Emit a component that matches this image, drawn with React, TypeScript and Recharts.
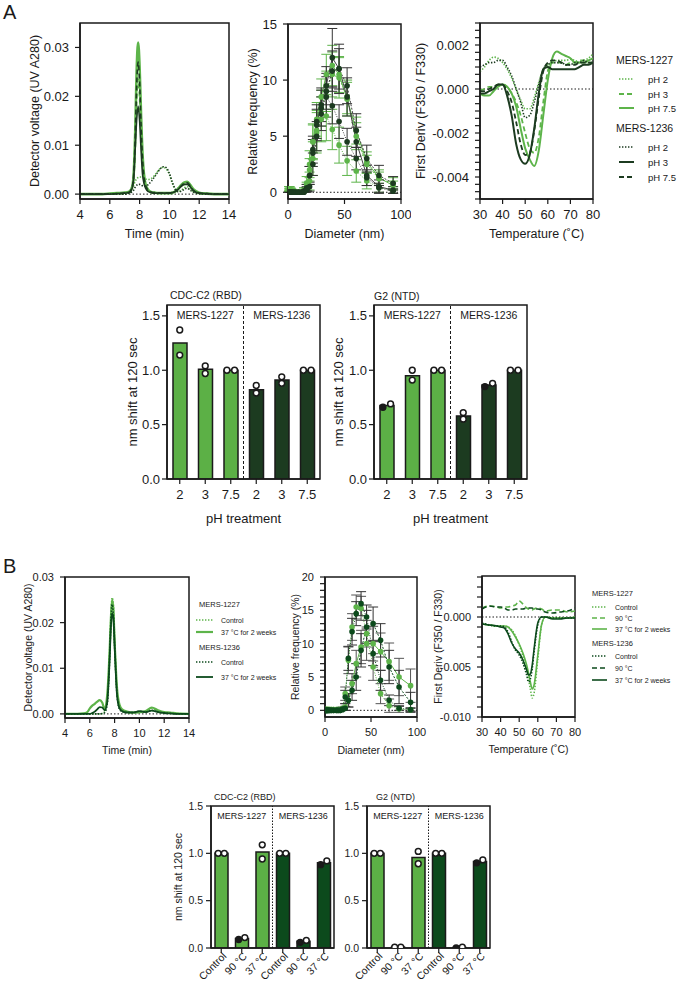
import {
  LineChart, Line, XAxis, YAxis, ReferenceLine, ReferenceArea, ErrorBar,
  ComposedChart, Bar, Cell, Scatter, Legend,
} from 'recharts';

const FONT = '"Liberation Sans", Arial, Helvetica, sans-serif';
const INK = '#1a1a1a';
const LIGHT = '#5db44a';
const DARK_A = '#1c3b20';
const DARK_B = '#0c4a1c';
const BAR_LIGHT = '#5cb046';
const DOTTED = '1.4 1.6';
const DASHED = '5 3';

// ---------- Panel A: SEC ----------
const A_SEC_TIME = [4, 5, 5.5, 6, 6.5, 7, 7.3, 7.5, 7.6, 7.7, 7.8, 7.9, 8.0, 8.1, 8.2, 8.4, 8.6, 8.8, 9.0, 9.2, 9.4, 9.6, 9.8, 10.0, 10.2, 10.4, 10.6, 10.8, 11.0, 11.2, 11.4, 11.6, 12, 12.5, 13, 14];
const A_SEC_1227_PH2 = [0, 0, 0, 0, 0, 0.0001, 0.0003, 0.001, 0.0018, 0.0026, 0.0031, 0.0034, 0.0035, 0.0035, 0.0034, 0.0031, 0.003, 0.0032, 0.0038, 0.0046, 0.0053, 0.0055, 0.0051, 0.004, 0.0022, 0.0009, 0.0005, 0.0008, 0.0013, 0.0015, 0.001, 0.0005, 0.0001, 0, 0, 0];
const A_SEC_1227_PH3 = [0, 0, 0, 0, 0.0001, 0.0002, 0.0004, 0.0012, 0.003, 0.009, 0.019, 0.0235, 0.02, 0.012, 0.006, 0.0016, 0.0006, 0.0003, 0.0002, 0.0002, 0.0002, 0.0002, 0.0002, 0.0002, 0.0003, 0.0005, 0.001, 0.0016, 0.002, 0.0021, 0.0016, 0.0008, 0.0002, 0.0001, 0, 0];
const A_SEC_1227_PH75 = [0, 0, 0, 0.0001, 0.0002, 0.0003, 0.0005, 0.0015, 0.004, 0.012, 0.025, 0.031, 0.026, 0.016, 0.008, 0.002, 0.0008, 0.0004, 0.0003, 0.0002, 0.0002, 0.0002, 0.0002, 0.0002, 0.0003, 0.0006, 0.0012, 0.0019, 0.0024, 0.0025, 0.0019, 0.001, 0.0003, 0.0001, 0, 0];
const A_SEC_1236_PH2 = [0, 0, 0, 0, 0, 0, 0.0002, 0.0005, 0.0008, 0.0014, 0.0018, 0.002, 0.002, 0.0019, 0.0017, 0.0016, 0.002, 0.0027, 0.0035, 0.0044, 0.0052, 0.0056, 0.0054, 0.0042, 0.0024, 0.001, 0.0005, 0.0006, 0.001, 0.0012, 0.0008, 0.0004, 0.0001, 0, 0, 0];
const A_SEC_1236_PH3 = [0, 0, 0, 0, 0.0001, 0.0002, 0.0003, 0.0012, 0.003, 0.009, 0.015, 0.018, 0.015, 0.009, 0.004, 0.0012, 0.0005, 0.0003, 0.0002, 0.0002, 0.0002, 0.0002, 0.0002, 0.0002, 0.0003, 0.0005, 0.001, 0.0016, 0.002, 0.002, 0.0015, 0.0007, 0.0002, 0.0001, 0, 0];
const A_SEC_1236_PH75 = [0, 0, 0, 0, 0.0001, 0.0002, 0.0004, 0.0015, 0.004, 0.011, 0.022, 0.027, 0.023, 0.014, 0.007, 0.0018, 0.0007, 0.0004, 0.0003, 0.0002, 0.0002, 0.0002, 0.0002, 0.0002, 0.0003, 0.0006, 0.0011, 0.0017, 0.0022, 0.0023, 0.0017, 0.0008, 0.0002, 0.0001, 0, 0];

// ---------- Panel A: DLS ----------
const DLS_DIAMETER = [1.0, 1.5, 2.2, 2.9, 3.9, 5.2, 6.9, 9.3, 12.4, 14.3, 16.5, 19.1, 22.0, 25.4, 29.4, 33.9, 39.2, 45.2, 52.3, 60.4, 69.7, 80.5, 93.0];
const A_DLS_1227_PH2 = [0.3, 0.3, 0.2, 0.2, 0.1, 0.1, 0, 0, 0, 0.2, 0.8, 2.5, 4.5, 5.3, 6.5, 6.8, 5.6, 4.2, 2.8, 1.9, 1.0, 0.4, 0.2];
const A_DLS_1227_PH2_SD = [0.2, 0.2, 0.2, 0.1, 0.1, 0.1, 0, 0, 0, 0.2, 0.6, 1.2, 1.6, 1.8, 2.0, 2.2, 1.8, 1.6, 1.3, 1.0, 0.7, 0.4, 0.3];
const A_DLS_1227_PH3 = [0.2, 0.2, 0.1, 0.1, 0, 0, 0, 0, 0, 0.1, 0.4, 1.0, 3.0, 5.5, 7.5, 9.0, 10.5, 10.2, 8.5, 5.0, 2.5, 1.2, 0.8];
const A_DLS_1227_PH3_SD = [0.1, 0.1, 0.1, 0.1, 0, 0, 0, 0, 0, 0.1, 0.3, 0.8, 1.5, 1.8, 1.6, 1.8, 2.0, 1.8, 1.5, 1.2, 0.8, 0.6, 0.5];
const A_DLS_1227_PH75 = [0.3, 0.2, 0.2, 0.1, 0.1, 0, 0, 0, 0, 0.2, 0.5, 2.0, 4.5, 6.5, 8.5, 10.5, 11.3, 10.5, 8.3, 5.5, 2.7, 1.3, 0.6];
const A_DLS_1227_PH75_SD = [0.2, 0.1, 0.1, 0.1, 0, 0, 0, 0, 0, 0.2, 0.4, 1.0, 1.5, 1.5, 1.6, 1.8, 1.8, 1.6, 1.5, 1.2, 0.9, 0.7, 0.4];
const A_DLS_1236_PH2 = [0, 0, 0, 0, 0, 0, 0, 0, 0, 0.1, 0.4, 1.5, 3.8, 6.3, 7.5, 8.5, 7.7, 6.3, 4.5, 3.0, 1.3, 0.4, 0.1];
const A_DLS_1236_PH2_SD = [0, 0, 0, 0, 0, 0, 0, 0, 0, 0.1, 0.3, 0.8, 1.2, 1.5, 1.6, 1.8, 1.6, 1.5, 1.2, 1.0, 0.7, 0.4, 0.2];
const A_DLS_1236_PH3 = [0, 0, 0, 0, 0, 0, 0, 0, 0, 0.1, 0.3, 1.5, 3.5, 6.0, 7.8, 9.5, 12.0, 11.0, 8.5, 4.5, 1.5, 0.5, 0.2];
const A_DLS_1236_PH3_SD = [0, 0, 0, 0, 0, 0, 0, 0, 0, 0.1, 0.2, 0.8, 1.2, 1.4, 1.5, 1.7, 2.6, 2.2, 1.7, 1.3, 0.9, 0.6, 0.3];
const A_DLS_1236_PH75 = [0, 0, 0, 0, 0, 0, 0, 0, 0, 0, 0.2, 0.5, 2.5, 5.0, 7.0, 9.0, 10.8, 11.0, 9.5, 5.5, 3.0, 1.5, 0.8];
const A_DLS_1236_PH75_SD = [0, 0, 0, 0, 0, 0, 0, 0, 0, 0, 0.2, 0.4, 1.0, 1.3, 1.5, 1.6, 1.8, 1.8, 1.6, 1.5, 1.2, 0.9, 0.6];

// ---------- Panel A: nanoDSF first derivative ----------
const A_DSF_TEMP = [30, 32, 34, 36, 38, 40, 42, 44, 46, 48, 50, 52, 54, 56, 58, 60, 62, 64, 66, 68, 70, 72, 74, 76, 78, 80];
const A_DSF_1227_PH2 = [0.0008, 0.001, 0.0013, 0.00145, 0.0014, 0.0012, 0.0009, 0.0005, 0, -0.0005, -0.0009, -0.0009, -0.0004, 0.0003, 0.0009, 0.0011, 0.0012, 0.0013, 0.0013, 0.0013, 0.00135, 0.0013, 0.0012, 0.0013, 0.0014, 0.0016];
const A_DSF_1227_PH3 = [-0.00005, 0, 0.0001, 0.0001, 0.0002, 0.0002, 0.0001, -0.0002, -0.0006, -0.0012, -0.002, -0.0027, -0.0029, -0.0022, -0.0006, 0.0008, 0.0012, 0.0012, 0.0012, 0.0011, 0.0012, 0.0012, 0.0013, 0.0013, 0.0012, 0.0012];
const A_DSF_1227_PH75 = [-0.0002, -0.0003, -0.0003, -0.0001, 0.0001, 0.0002, 0.0001, -0.0002, -0.0008, -0.0018, -0.0027, -0.0032, -0.0035, -0.0028, -0.0012, 0.0004, 0.0014, 0.0017, 0.0016, 0.0015, 0.0014, 0.0012, 0.0012, 0.0012, 0.0013, 0.0014];
const A_DSF_1236_PH2 = [0.001, 0.0011, 0.0012, 0.0012, 0.0013, 0.0013, 0.001, 0.0006, 0, -0.0006, -0.0013, -0.0012, -0.0006, 0.0002, 0.0009, 0.0011, 0.0012, 0.0012, 0.0012, 0.0011, 0.0011, 0.0012, 0.0012, 0.0013, 0.0012, 0.0012];
const A_DSF_1236_PH3 = [-0.0002, -0.0002, -0.0001, 0, 0.0002, 0.0002, -0.0003, -0.0012, -0.0025, -0.0032, -0.0034, -0.003, -0.0018, -0.0002, 0.0009, 0.001, 0.0009, 0.0009, 0.0009, 0.0009, 0.0009, 0.0009, 0.001, 0.0011, 0.0011, 0.0012];
const A_DSF_1236_PH75 = [-0.0001, -0.0001, 0, 0.0001, 0.0002, 0.0002, -0.0001, -0.0006, -0.0015, -0.0025, -0.003, -0.0029, -0.0019, -0.0004, 0.0008, 0.0012, 0.0013, 0.0013, 0.0012, 0.0011, 0.0011, 0.0011, 0.0012, 0.0012, 0.0012, 0.0012];

// ---------- Panel A: BLI binding ----------
const PH_LABELS = ['2', '3', '7.5', '2', '3', '7.5'];
const A_RBD_MEAN = [1.25, 1.01, 1.0, 0.82, 0.91, 1.0];
const A_RBD_REP1 = [1.37, 1.04, 1.0, 0.86, 0.94, 1.0];
const A_RBD_REP2 = [1.14, 0.97, 1.0, 0.79, 0.88, 1.0];
const A_NTD_MEAN = [0.675, 0.95, 1.0, 0.58, 0.865, 1.0];
const A_NTD_REP1 = [0.66, 1.0, 1.0, 0.61, 0.85, 1.0];
const A_NTD_REP2 = [0.69, 0.91, 1.0, 0.55, 0.88, 1.0];

// ---------- Panel B: SEC ----------
const B_SEC_TIME = [4, 5, 5.5, 5.8, 6.0, 6.2, 6.4, 6.6, 6.8, 7.0, 7.2, 7.4, 7.6, 7.7, 7.8, 7.9, 8.0, 8.2, 8.4, 8.6, 9, 9.5, 10, 10.5, 11, 11.5, 12, 12.5, 13, 14];
const B_SEC_1227_CTRL = [0, 0, 0, 0, 0, 0, 0, 0, 0, 0.0001, 0.0005, 0.003, 0.014, 0.021, 0.0255, 0.024, 0.017, 0.005, 0.0015, 0.0007, 0.0003, 0.0002, 0.0003, 0.0004, 0.0012, 0.0006, 0.0003, 0.0002, 0.0001, 0];
const B_SEC_1227_37C = [0, 0, 0.0001, 0.0004, 0.0012, 0.0018, 0.0022, 0.0027, 0.003, 0.0025, 0.001, 0.004, 0.014, 0.021, 0.025, 0.023, 0.016, 0.0055, 0.002, 0.001, 0.0005, 0.0003, 0.0004, 0.0006, 0.0014, 0.0008, 0.0004, 0.0003, 0.0001, 0];
const B_SEC_1236_CTRL = [0, 0, 0, 0, 0, 0, 0, 0, 0, 0.0001, 0.0003, 0.002, 0.012, 0.02, 0.024, 0.022, 0.015, 0.004, 0.001, 0.0005, 0.0003, 0.0003, 0.0006, 0.0004, 0.0008, 0.0004, 0.0002, 0.0001, 0, 0];
const B_SEC_1236_37C = [0, 0, 0, 0, 0, 0.0002, 0.0005, 0.001, 0.0015, 0.0014, 0.0008, 0.0025, 0.012, 0.019, 0.022, 0.021, 0.015, 0.004, 0.0012, 0.0006, 0.0003, 0.0003, 0.0006, 0.0004, 0.0007, 0.0004, 0.0002, 0.0001, 0, 0];

// ---------- Panel B: DLS ----------
const B_DLS_1227_CTRL = [0.1, 0.1, 0.1, 0.1, 0.1, 0.1, 0.1, 0.1, 0.1, 0.1, 0.1, 0.3, 2.5, 7.5, 12.5, 15.5, 15.3, 11.5, 6.5, 2.5, 0.7, 0.2, 0.1];
const B_DLS_1227_CTRL_SD = [0, 0, 0, 0, 0, 0, 0, 0, 0, 0, 0.1, 0.2, 1.0, 2.0, 2.0, 1.8, 1.8, 2.0, 2.0, 1.5, 1.0, 0.5, 0.3];
const B_DLS_1227_37C = [0.1, 0.1, 0.1, 0.1, 0.1, 0.1, 0.1, 0.1, 0.1, 0.1, 0.1, 0.2, 0.5, 1.5, 4.0, 7.0, 9.5, 10.0, 10.0, 8.8, 7.3, 5.0, 3.7];
const B_DLS_1227_37C_SD = [0, 0, 0, 0, 0, 0, 0, 0, 0, 0, 0.1, 0.2, 0.5, 1.0, 1.5, 2.0, 2.5, 2.5, 2.6, 2.8, 2.8, 2.8, 2.5];
const B_DLS_1236_CTRL = [0, 0, 0, 0, 0, 0, 0, 0, 0, 0, 0, 0.2, 2.0, 7.8, 11.8, 14.5, 16.0, 14.0, 8.5, 4.5, 1.5, 0.3, 0.1];
const B_DLS_1236_CTRL_SD = [0, 0, 0, 0, 0, 0, 0, 0, 0, 0, 0, 0.2, 1.0, 1.8, 2.0, 1.8, 1.8, 1.8, 1.8, 1.5, 0.8, 0.3, 0.2];
const B_DLS_1236_37C = [0, 0, 0, 0, 0, 0, 0, 0, 0, 0, 0, 0.1, 0.3, 1.5, 3.0, 5.0, 9.0, 12.5, 13.0, 10.5, 6.5, 3.5, 1.2];
const B_DLS_1236_37C_SD = [0, 0, 0, 0, 0, 0, 0, 0, 0, 0, 0, 0.1, 0.3, 1.0, 1.5, 2.0, 2.5, 2.5, 2.5, 2.5, 2.5, 2.5, 1.5];

// ---------- Panel B: nanoDSF first derivative ----------
const B_DSF_TEMP = [30, 34, 38, 40, 42, 44, 46, 48, 50, 52, 54, 55, 56, 57, 58, 60, 62, 64, 68, 72, 76, 80];
const B_DSF_1227_CTRL = [-0.0007, -0.0008, -0.0009, -0.0009, -0.0009, -0.001, -0.0013, -0.0019, -0.0028, -0.0039, -0.0053, -0.0062, -0.0072, -0.0081, -0.0076, -0.0042, -0.0008, 0, -0.0001, -0.0001, -0.0001, -0.0001];
const B_DSF_1227_90C = [0.0009, 0.0011, 0.001, 0.0009, 0.001, 0.001, 0.0011, 0.0012, 0.0016, 0.0013, 0.0009, 0.0008, 0.0007, 0.0007, 0.0008, 0.0009, 0.0008, 0.0006, 0.0007, 0.0007, 0.0005, 0.0006];
const B_DSF_1227_37C = [-0.0007, -0.0008, -0.0009, -0.0009, -0.0009, -0.001, -0.0014, -0.002, -0.0027, -0.0036, -0.0048, -0.0056, -0.0065, -0.0072, -0.0068, -0.0038, -0.0008, 0, -0.0001, -0.0001, -0.0001, 0];
const B_DSF_1236_CTRL = [-0.0006, -0.0008, -0.0009, -0.0009, -0.001, -0.0015, -0.0025, -0.0033, -0.0038, -0.0046, -0.0058, -0.0065, -0.0062, -0.0052, -0.0035, -0.0008, 0, 0, -0.0001, -0.0001, -0.0001, -0.0001];
const B_DSF_1236_90C = [0.0008, 0.0011, 0.001, 0.001, 0.0009, 0.0007, 0.0007, 0.0008, 0.0008, 0.0008, 0.0009, 0.0009, 0.0009, 0.0009, 0.0008, 0.0008, 0.0007, 0.0005, 0.0004, 0.0005, 0.0006, 0.0009];
const B_DSF_1236_37C = [-0.0007, -0.0008, -0.0009, -0.001, -0.0011, -0.0017, -0.0026, -0.0032, -0.0036, -0.0043, -0.0053, -0.0058, -0.0057, -0.0048, -0.0032, -0.0006, 0, 0, -0.0002, -0.0002, -0.0001, -0.0001];

// ---------- Panel B: BLI binding ----------
const COND_LABELS = ['Control', '90 °C', '37 °C', 'Control', '90 °C', '37 °C'];
const B_RBD_MEAN = [1.0, 0.1, 1.015, 1.0, 0.07, 0.9];
const B_RBD_REP1 = [1.0, 0.09, 1.09, 1.0, 0.06, 0.88];
const B_RBD_REP2 = [1.0, 0.11, 0.94, 1.0, 0.08, 0.92];
const B_NTD_MEAN = [1.0, 0.01, 0.955, 1.0, 0.005, 0.915];
const B_NTD_REP1 = [1.0, 0.01, 1.02, 1.0, 0.0, 0.9];
const B_NTD_REP2 = [1.0, 0.01, 0.89, 1.0, 0.01, 0.93];

type Box = { x0: number; y0: number; x1: number; y1: number };

type SeriesDef = {
  key: string;
  group: string;
  label: string;
  values: number[];
  err?: number[];
  color: string;
  dash?: string;
  width: number;
  dotColor?: string;
  errColor?: string;
};

type KeySpec = {
  headerX: number;
  headerY: number[];
  rowY: number[][];
  lineX: [number, number];
  textX: number;
  headerFs: number;
  fs: number;
};

const AXIS = { stroke: INK, strokeWidth: 1.5 };
const TICK = { stroke: INK, strokeWidth: 1.2 };

const near = (a: number, b: number) => Math.abs(a - b) < 1e-9;
const clean = (v: number) => (Math.abs(v) < 1e-12 ? 0 : v);
const steps = (from: number, to: number, n: number) =>
  Array.from({ length: n + 1 }, (_, k) => Math.round((from + ((to - from) * k) / n) * 1e7) / 1e7);

function yTickRenderer(major: number[], digits: number, fs: number) {
  return (props: any) => {
    const v = props.payload.value;
    if (!major.some((m) => near(m, v))) return <g />;
    return (
      <text x={props.x} y={props.y} textAnchor="end" dominantBaseline="central" fontSize={fs} fontFamily={FONT} fill={INK}>
        {clean(v).toFixed(digits)}
      </text>
    );
  };
}

function SeriesKey({ spec, series, left, top }: { spec: KeySpec; series: SeriesDef[]; left: number; top: number }) {
  const groups = Array.from(new Set(series.map((s) => s.group)));
  return (
    <svg width={677} height={986} style={{ position: 'absolute', left: -left, top: -top, overflow: 'visible', pointerEvents: 'none' }}>
      {groups.map((g, gi) => (
        <g key={g}>
          <text x={spec.headerX} y={spec.headerY[gi]} dominantBaseline="central" fontSize={spec.headerFs} fontFamily={FONT} fill={INK}>
            {g}
          </text>
          {series.filter((s) => s.group === g).map((s, si) => (
            <g key={s.key}>
              <line x1={spec.lineX[0]} x2={spec.lineX[1]} y1={spec.rowY[gi][si]} y2={spec.rowY[gi][si]}
                stroke={s.color} strokeWidth={s.width} strokeDasharray={s.dash} />
              <text x={spec.textX} y={spec.rowY[gi][si]} dominantBaseline="central" fontSize={spec.fs} fontFamily={FONT} fill={INK}>
                {s.label}
              </text>
            </g>
          ))}
        </g>
      ))}
    </svg>
  );
}

type LineProps = {
  box: Box;
  x: number[];
  series: SeriesDef[];
  xDomain: [number, number];
  xTicks: number[];
  yDomain: [number, number];
  yTicks: number[];
  yMajor: number[];
  yDigits: number;
  xTitle: string;
  yTitle: string;
  yTitleX: number;
  xTitleY: number;
  fs: number;
  titleFs: number;
  markers?: boolean;
  keySpec?: KeySpec;
};

function LinePanel(p: LineProps) {
  const padL = 80, padT = 10, padB = 50, padR = 10;
  const left = p.box.x0 - padL;
  const top = p.box.y0 - padT;
  const width = p.box.x1 - p.box.x0 + padL + padR;
  const height = p.box.y1 - p.box.y0 + padT + padB;
  const rows = p.x.map((xv, i) => {
    const row: Record<string, number> = { x: xv };
    p.series.forEach((s) => {
      row[s.key] = s.values[i];
      if (s.err) row[s.key + '_sd'] = s.err[i];
    });
    return row;
  });
  const midX = (p.box.x0 + p.box.x1) / 2 - left;
  const midY = (p.box.y0 + p.box.y1) / 2 - top;

  return (
    <div style={{ position: 'absolute', left, top, width, height }}>
      <LineChart width={width} height={height} data={rows} margin={{ top: padT, right: padR, bottom: 0, left: 0 }}>
        <XAxis dataKey="x" type="number" domain={p.xDomain} ticks={p.xTicks} interval={0} allowDataOverflow height={padB}
          axisLine={AXIS} tickLine={TICK} tickSize={5} tickMargin={6}
          tick={{ fontSize: p.fs, fontFamily: FONT, fill: INK }}
          label={() => (
            <text x={midX} y={p.xTitleY - top} textAnchor="middle" dominantBaseline="central" fontSize={p.titleFs} fontFamily={FONT} fill={INK}>
              {p.xTitle}
            </text>
          )} />
        <YAxis type="number" domain={p.yDomain} ticks={p.yTicks} interval={0} allowDataOverflow width={padL}
          axisLine={AXIS} tickLine={TICK} tickSize={5} tickMargin={6}
          tick={yTickRenderer(p.yMajor, p.yDigits, p.fs)}
          label={() => (
            <text transform={`translate(${p.yTitleX - left},${midY}) rotate(-90)`} textAnchor="middle" dominantBaseline="central"
              fontSize={p.titleFs} fontFamily={FONT} fill={INK}>
              {p.yTitle}
            </text>
          )} />
        <ReferenceLine y={0} stroke={INK} strokeWidth={1} strokeDasharray="1.5 2" />
        {p.series.map((s) => (
          <Line key={s.key} dataKey={s.key} type={p.markers ? 'linear' : 'monotone'} stroke={s.color}
            strokeWidth={s.width} strokeDasharray={s.dash} isAnimationActive={false} activeDot={false}
            dot={p.markers ? { r: 2.8, fill: s.dotColor ?? s.color, stroke: 'none' } : false}>
            {s.err && (
              <ErrorBar dataKey={s.key + '_sd'} direction="y" width={5} stroke={s.errColor ?? s.color} strokeWidth={1} />
            )}
          </Line>
        ))}
        {/* plot frame */}
        <ReferenceArea x1={p.xDomain[0]} x2={p.xDomain[1]} y1={p.yDomain[0]} y2={p.yDomain[1]}
          fill="none" fillOpacity={0} stroke={INK} strokeWidth={1.5} ifOverflow="visible" />
        {p.keySpec && (
          <Legend verticalAlign="top" align="left" layout="horizontal"
            wrapperStyle={{ position: 'absolute', left: 0, top: 0, width: 0, height: 0, overflow: 'visible' }}
            content={() => <SeriesKey spec={p.keySpec!} series={p.series} left={left} top={top} />} />
        )}
      </LineChart>
    </div>
  );
}

type BarProps = {
  box: Box;
  cats: string[];
  mean: number[];
  rep1: number[];
  rep2: number[];
  colors: string[];
  yMax: number;
  fs: number;
  titleFs: number;
  groupFs: number;
  barSize: number;
  yTickMargin: number;
  title: string;
  titleX: number;
  titleY: number;
  groupY: number;
  dividerDash: string;
  yTitle?: string;
  yTitleX?: number;
  xTitle?: string;
  xTitleY?: number;
  rotate?: boolean;
};

function BarPanel(p: BarProps) {
  const padL = 70, padT = 24, padB = p.rotate ? 60 : 50, padR = 8;
  const left = p.box.x0 - padL;
  const top = p.box.y0 - padT;
  const width = p.box.x1 - p.box.x0 + padL + padR;
  const height = p.box.y1 - p.box.y0 + padT + padB;
  const rows = p.mean.map((m, i) => ({ pos: i + 1, mean: m }));
  // replicate points sit side by side when they would overlap
  const points = p.rep1.flatMap((r1, i) => {
    const r2 = p.rep2[i];
    const side = Math.abs(r1 - r2) < 0.05;
    const dx = side ? 0.15 : 0;
    return [
      { pos: i + 1 - dx, v: r1, solid: side && r1 < r2 },
      { pos: i + 1 + dx, v: r2, solid: false },
    ];
  });
  const midX = (p.box.x0 + p.box.x1) / 2 - left;
  const midY = (p.box.y0 + p.box.y1) / 2 - top;
  const groupLabel = (name: string) => (props: any) => (
    <text x={props.viewBox.x + props.viewBox.width / 2} y={p.groupY - top} textAnchor="middle" dominantBaseline="central"
      fontSize={p.groupFs} fontFamily={FONT} fill={INK}>
      {name}
    </text>
  );
  const rotTick = (props: any) => {
    const label = p.cats[Math.round(props.payload.value) - 1];
    const x = props.x + 3;
    const y = props.y - 5;
    return (
      <text x={x} y={y} transform={`rotate(-45, ${x}, ${y})`} textAnchor="end" dominantBaseline="central"
        fontSize={p.fs} fontFamily={FONT} fill={INK}>
        {label}
      </text>
    );
  };

  return (
    <div style={{ position: 'absolute', left, top, width, height }}>
      <ComposedChart width={width} height={height} data={rows} margin={{ top: padT, right: padR, bottom: 0, left: 0 }}>
        <XAxis dataKey="pos" type="number" domain={[0.5, 6.5]} ticks={[1, 2, 3, 4, 5, 6]} interval={0} allowDataOverflow height={padB}
          axisLine={AXIS} tickLine={TICK} tickSize={5} tickMargin={6}
          tick={p.rotate ? rotTick : { fontSize: p.fs, fontFamily: FONT, fill: INK }}
          tickFormatter={(v: number) => p.cats[Math.round(v) - 1]}
          label={() =>
            p.xTitle ? (
              <text x={midX} y={(p.xTitleY ?? 0) - top} textAnchor="middle" dominantBaseline="central" fontSize={p.titleFs} fontFamily={FONT} fill={INK}>
                {p.xTitle}
              </text>
            ) : <g />
          } />
        <XAxis xAxisId="pts" dataKey="pos" type="number" domain={[0.5, 6.5]} allowDataOverflow hide />
        <YAxis dataKey="v" type="number" domain={[0, p.yMax]} ticks={[0, 0.5, 1, 1.5]} interval={0} allowDataOverflow width={padL}
          axisLine={AXIS} tickLine={TICK} tickSize={5} tickMargin={p.yTickMargin}
          tick={{ fontSize: p.fs, fontFamily: FONT, fill: INK }}
          tickFormatter={(v: number) => v.toFixed(1)}
          label={() =>
            p.yTitle ? (
              <text transform={`translate(${(p.yTitleX ?? 0) - left},${midY}) rotate(-90)`} textAnchor="middle" dominantBaseline="central"
                fontSize={p.titleFs} fontFamily={FONT} fill={INK}>
                {p.yTitle}
              </text>
            ) : <g />
          } />
        <ReferenceArea x1={0.5} x2={3.5} fill="none" fillOpacity={0} strokeOpacity={0} label={groupLabel('MERS-1227')} />
        <ReferenceArea x1={3.5} x2={6.5} fill="none" fillOpacity={0} strokeOpacity={0} label={groupLabel('MERS-1236')} />
        <ReferenceLine x={3.5} stroke={INK} strokeWidth={1} strokeDasharray={p.dividerDash} />
        <Bar dataKey="mean" barSize={p.barSize} stroke={INK} strokeWidth={1.5} isAnimationActive={false}>
          {rows.map((r, i) => (
            <Cell key={r.pos} fill={p.colors[i]} />
          ))}
        </Bar>
        <Scatter xAxisId="pts" data={points} dataKey="v" isAnimationActive={false}
          shape={(s: any) => (
            <circle cx={s.cx} cy={s.cy} r={2.9} fill={s.payload.solid ? INK : '#fff'} stroke={INK} strokeWidth={1.5} />
          )} />
        {/* plot frame with the antigen title above it */}
        <ReferenceArea x1={0.5} x2={6.5} y1={0} y2={p.yMax} fill="none" fillOpacity={0} stroke={INK} strokeWidth={1.5} ifOverflow="visible"
          label={() => (
            <text x={p.titleX - left} y={p.titleY - top} dominantBaseline="central" fontSize={p.groupFs} fontFamily={FONT} fill={INK}>
              {p.title}
            </text>
          )} />
      </ComposedChart>
    </div>
  );
}

// series definitions for panel A
const aSec: SeriesDef[] = [
  { key: 'l2', group: 'MERS-1227', label: 'pH 2', values: A_SEC_1227_PH2, color: LIGHT, dash: DOTTED, width: 1.6 },
  { key: 'l3', group: 'MERS-1227', label: 'pH 3', values: A_SEC_1227_PH3, color: LIGHT, dash: DASHED, width: 1.8 },
  { key: 'l75', group: 'MERS-1227', label: 'pH 7.5', values: A_SEC_1227_PH75, color: LIGHT, width: 2.6 },
  { key: 'd2', group: 'MERS-1236', label: 'pH 2', values: A_SEC_1236_PH2, color: DARK_A, dash: DOTTED, width: 1.6 },
  { key: 'd3', group: 'MERS-1236', label: 'pH 3', values: A_SEC_1236_PH3, color: DARK_A, width: 1.6 },
  { key: 'd75', group: 'MERS-1236', label: 'pH 7.5', values: A_SEC_1236_PH75, color: DARK_A, dash: DASHED, width: 1.6 },
];

const aDls: SeriesDef[] = [
  { key: 'l2', group: 'MERS-1227', label: 'pH 2', values: A_DLS_1227_PH2, err: A_DLS_1227_PH2_SD, color: LIGHT, dash: '1 1.5', width: 1 },
  { key: 'l3', group: 'MERS-1227', label: 'pH 3', values: A_DLS_1227_PH3, err: A_DLS_1227_PH3_SD, color: LIGHT, dash: '2 1.5', width: 1 },
  { key: 'l75', group: 'MERS-1227', label: 'pH 7.5', values: A_DLS_1227_PH75, err: A_DLS_1227_PH75_SD, color: LIGHT, width: 1 },
  { key: 'd2', group: 'MERS-1236', label: 'pH 2', values: A_DLS_1236_PH2, err: A_DLS_1236_PH2_SD, color: '#444', dash: '1 1.5', width: 1, dotColor: DARK_A, errColor: '#333' },
  { key: 'd3', group: 'MERS-1236', label: 'pH 3', values: A_DLS_1236_PH3, err: A_DLS_1236_PH3_SD, color: '#444', width: 1, dotColor: DARK_A, errColor: '#333' },
  { key: 'd75', group: 'MERS-1236', label: 'pH 7.5', values: A_DLS_1236_PH75, err: A_DLS_1236_PH75_SD, color: '#444', dash: '2 1.5', width: 1, dotColor: DARK_A, errColor: '#333' },
];

const aDsf: SeriesDef[] = [
  { key: 'l2', group: 'MERS-1227', label: 'pH 2', values: A_DSF_1227_PH2, color: LIGHT, dash: DOTTED, width: 1.6 },
  { key: 'l3', group: 'MERS-1227', label: 'pH 3', values: A_DSF_1227_PH3, color: LIGHT, dash: DASHED, width: 1.8 },
  { key: 'l75', group: 'MERS-1227', label: 'pH 7.5', values: A_DSF_1227_PH75, color: LIGHT, width: 2 },
  { key: 'd2', group: 'MERS-1236', label: 'pH 2', values: A_DSF_1236_PH2, color: DARK_A, dash: DOTTED, width: 1.6 },
  { key: 'd3', group: 'MERS-1236', label: 'pH 3', values: A_DSF_1236_PH3, color: DARK_A, width: 2 },
  { key: 'd75', group: 'MERS-1236', label: 'pH 7.5', values: A_DSF_1236_PH75, color: DARK_A, dash: DASHED, width: 1.8 },
];

// series definitions for panel B
const bSec: SeriesDef[] = [
  { key: 'lc', group: 'MERS-1227', label: 'Control', values: B_SEC_1227_CTRL, color: LIGHT, dash: DOTTED, width: 1.6 },
  { key: 'l37', group: 'MERS-1227', label: '37 °C for 2 weeks', values: B_SEC_1227_37C, color: LIGHT, width: 2.2 },
  { key: 'dc', group: 'MERS-1236', label: 'Control', values: B_SEC_1236_CTRL, color: DARK_B, dash: DOTTED, width: 1.6 },
  { key: 'd37', group: 'MERS-1236', label: '37 °C for 2 weeks', values: B_SEC_1236_37C, color: DARK_B, width: 1.8 },
];

const bDls: SeriesDef[] = [
  { key: 'lc', group: 'MERS-1227', label: 'Control', values: B_DLS_1227_CTRL, err: B_DLS_1227_CTRL_SD, color: LIGHT, dash: '1 1.5', width: 1, errColor: '#555' },
  { key: 'l37', group: 'MERS-1227', label: '37 °C for 2 weeks', values: B_DLS_1227_37C, err: B_DLS_1227_37C_SD, color: LIGHT, width: 1, errColor: '#555' },
  { key: 'dc', group: 'MERS-1236', label: 'Control', values: B_DLS_1236_CTRL, err: B_DLS_1236_CTRL_SD, color: DARK_B, dash: '1 1.5', width: 1, errColor: '#333' },
  { key: 'd37', group: 'MERS-1236', label: '37 °C for 2 weeks', values: B_DLS_1236_37C, err: B_DLS_1236_37C_SD, color: DARK_B, dash: '2 1.5', width: 1, errColor: '#333' },
];

const bDsf: SeriesDef[] = [
  { key: 'lc', group: 'MERS-1227', label: 'Control', values: B_DSF_1227_CTRL, color: LIGHT, dash: DOTTED, width: 1.6 },
  { key: 'l90', group: 'MERS-1227', label: '90 °C', values: B_DSF_1227_90C, color: LIGHT, dash: DASHED, width: 1.6 },
  { key: 'l37', group: 'MERS-1227', label: '37 °C for 2 weeks', values: B_DSF_1227_37C, color: LIGHT, width: 1.6 },
  { key: 'dc', group: 'MERS-1236', label: 'Control', values: B_DSF_1236_CTRL, color: DARK_B, dash: DOTTED, width: 1.6 },
  { key: 'd90', group: 'MERS-1236', label: '90 °C', values: B_DSF_1236_90C, color: DARK_B, dash: DASHED, width: 1.6 },
  { key: 'd37', group: 'MERS-1236', label: '37 °C for 2 weeks', values: B_DSF_1236_37C, color: DARK_B, width: 1.6 },
];

const A_BAR_COLORS = [BAR_LIGHT, BAR_LIGHT, BAR_LIGHT, DARK_A, DARK_A, DARK_A];
const B_BAR_COLORS = [BAR_LIGHT, BAR_LIGHT, BAR_LIGHT, DARK_B, DARK_B, DARK_B];

export default function App() {
  return (
    <div style={{ position: 'absolute', left: 0, top: 0, width: 677, height: 986, overflow: 'hidden', background: '#fff', fontFamily: FONT, color: INK }}>
      <div style={{ position: 'absolute', left: 3, top: 1, fontSize: 20, lineHeight: '22px' }}>A</div>
      <div style={{ position: 'absolute', left: 3, top: 555, fontSize: 20, lineHeight: '22px' }}>B</div>

      <LinePanel box={{ x0: 80, y0: 23, x1: 229, y1: 199 }} x={A_SEC_TIME} series={aSec}
        xDomain={[4, 14]} xTicks={[4, 6, 8, 10, 12, 14]} yDomain={[-0.001, 0.035]} yTicks={[0, 0.01, 0.02, 0.03]}
        yMajor={[0, 0.01, 0.02, 0.03]} yDigits={2} xTitle="Time (min)" yTitle="Detector voltage (UV A280)"
        yTitleX={35} xTitleY={234} fs={13} titleFs={12.5} />

      <LinePanel box={{ x0: 288, y0: 24, x1: 401, y1: 199 }} x={DLS_DIAMETER} series={aDls} markers
        xDomain={[0, 100]} xTicks={[0, 50, 100]} yDomain={[-0.6, 15]} yTicks={[0, 5, 10, 15]}
        yMajor={[0, 5, 10, 15]} yDigits={0} xTitle="Diameter (nm)" yTitle="Relative frequency (%)"
        yTitleX={253} xTitleY={234} fs={13} titleFs={12.5} />

      <LinePanel box={{ x0: 480, y0: 23, x1: 593, y1: 199 }} x={A_DSF_TEMP} series={aDsf}
        xDomain={[30, 80]} xTicks={[30, 40, 50, 60, 70, 80]} yDomain={[-0.005, 0.003]} yTicks={steps(-0.005, 0.003, 24)}
        yMajor={[-0.004, -0.002, 0, 0.002]} yDigits={3} xTitle="Temperature (˚C)" yTitle="First Deriv (F350 / F330)"
        yTitleX={421} xTitleY={234} fs={13} titleFs={12.5}
        keySpec={{ headerX: 616, headerY: [60, 128], rowY: [[79, 94, 108], [147, 162, 177]], lineX: [619, 634], textX: 648, headerFs: 10.5, fs: 9.5 }} />

      <BarPanel box={{ x0: 167, y0: 305, x1: 320, y1: 479 }} cats={PH_LABELS} mean={A_RBD_MEAN} rep1={A_RBD_REP1} rep2={A_RBD_REP2}
        colors={A_BAR_COLORS} yMax={1.6} fs={13} titleFs={13} groupFs={10.5} barSize={14} yTickMargin={2}
        title="CDC-C2 (RBD)" titleX={170} titleY={295} groupY={315} dividerDash="3 2"
        yTitle="nm shift at 120 sec" yTitleX={132} xTitle="pH treatment" xTitleY={518} />

      <BarPanel box={{ x0: 374, y0: 305, x1: 527, y1: 479 }} cats={PH_LABELS} mean={A_NTD_MEAN} rep1={A_NTD_REP1} rep2={A_NTD_REP2}
        colors={A_BAR_COLORS} yMax={1.6} fs={13} titleFs={13} groupFs={10.5} barSize={14} yTickMargin={2}
        title="G2 (NTD)" titleX={374} titleY={296} groupY={315} dividerDash="3 2"
        yTitle="nm shift at 120 sec" yTitleX={338} xTitle="pH treatment" xTitleY={518} />

      <LinePanel box={{ x0: 65, y0: 577, x1: 189, y1: 718 }} x={B_SEC_TIME} series={bSec}
        xDomain={[4, 14]} xTicks={[4, 6, 8, 10, 12, 14]} yDomain={[-0.0009, 0.03]} yTicks={[0, 0.01, 0.02, 0.03]}
        yMajor={[0, 0.01, 0.02, 0.03]} yDigits={2} xTitle="Time (min)" yTitle="Detector voltage (UV A280)"
        yTitleX={28} xTitleY={750} fs={11} titleFs={10.5}
        keySpec={{ headerX: 199, headerY: [604, 647], rowY: [[620, 632], [662, 677]], lineX: [196, 213], textX: 221, headerFs: 7.5, fs: 7 }} />

      <LinePanel box={{ x0: 325, y0: 577, x1: 417, y1: 717 }} x={DLS_DIAMETER} series={bDls} markers
        xDomain={[0, 100]} xTicks={[0, 50, 100]} yDomain={[-1, 20]} yTicks={steps(0, 20, 20)}
        yMajor={[0, 5, 10, 15, 20]} yDigits={0} xTitle="Diameter (nm)" yTitle="Relative frequency (%)"
        yTitleX={295} xTitleY={750} fs={11} titleFs={10.5} />

      <LinePanel box={{ x0: 482, y0: 576, x1: 575, y1: 717 }} x={B_DSF_TEMP} series={bDsf}
        xDomain={[30, 80]} xTicks={[30, 40, 50, 60, 70, 80]} yDomain={[-0.01, 0.0041]} yTicks={steps(-0.01, 0.004, 14)}
        yMajor={[-0.01, -0.005, 0]} yDigits={3} xTitle="Temperature (˚C)" yTitle="First Deriv (F350 / F330)"
        yTitleX={438} xTitleY={749} fs={11} titleFs={10.5}
        keySpec={{ headerX: 592, headerY: [593, 643], rowY: [[607, 618, 629], [656, 668, 680]], lineX: [592, 607], textX: 615, headerFs: 7.5, fs: 7 }} />

      <BarPanel box={{ x0: 211, y0: 806, x1: 334, y1: 948 }} cats={COND_LABELS} mean={B_RBD_MEAN} rep1={B_RBD_REP1} rep2={B_RBD_REP2}
        colors={B_BAR_COLORS} yMax={1.5} fs={10.5} titleFs={10.5} groupFs={9} barSize={13} yTickMargin={3} rotate
        title="CDC-C2 (RBD)" titleX={214} titleY={797} groupY={816} dividerDash="1.5 1.5"
        yTitle="nm shift at 120 sec" yTitleX={178} />

      <BarPanel box={{ x0: 367, y0: 806, x1: 490, y1: 948 }} cats={COND_LABELS} mean={B_NTD_MEAN} rep1={B_NTD_REP1} rep2={B_NTD_REP2}
        colors={B_BAR_COLORS} yMax={1.5} fs={10.5} titleFs={10.5} groupFs={9} barSize={13} yTickMargin={3} rotate
        title="G2 (NTD)" titleX={376} titleY={797} groupY={816} dividerDash="1.5 1.5" />
    </div>
  );
}
